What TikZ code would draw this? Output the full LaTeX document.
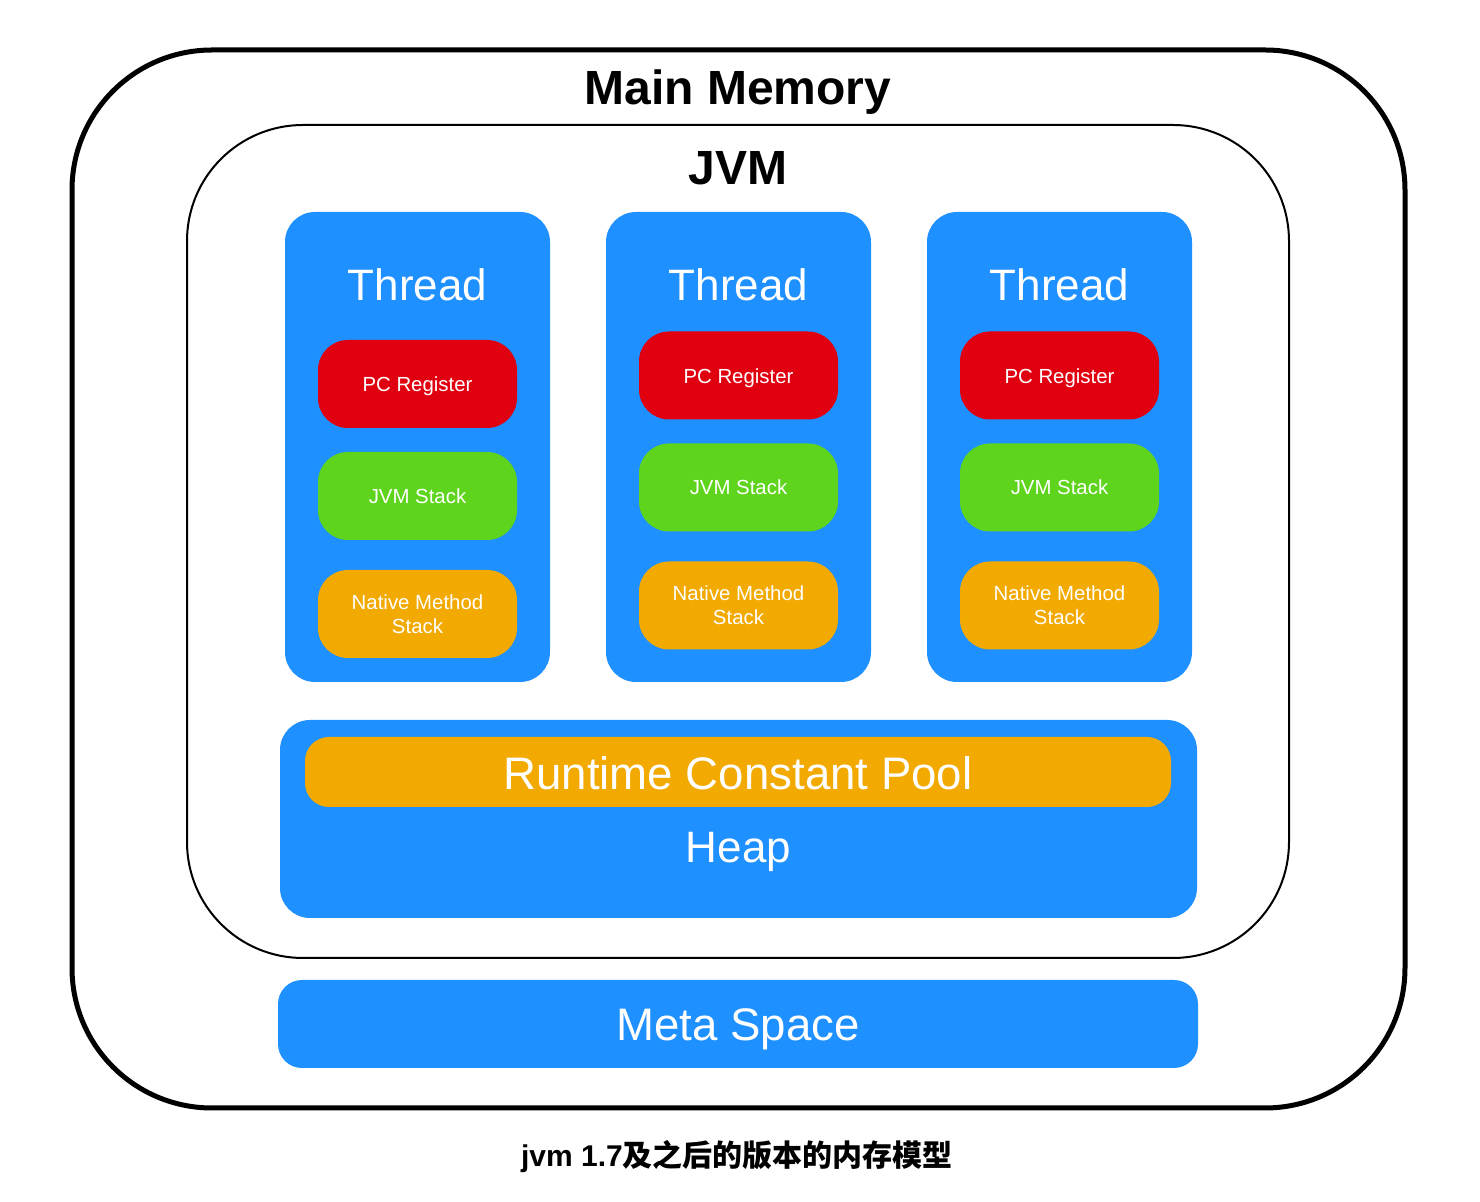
\documentclass[tikz,border=0pt]{standalone}
\usepackage{fontspec}
\setmainfont{Liberation Sans}
\newfontfamily\cjk{Noto Sans CJK SC}
\definecolor{areablue}{RGB}{30,144,255}
\definecolor{pcred}{RGB}{225,0,15}
\definecolor{stackgreen}{RGB}{94,212,28}
\definecolor{nativeorange}{RGB}{242,169,0}

\begin{document}
\begin{tikzpicture}[x=0.5pt,y=-0.5pt,
  area/.style={fill=areablue,rounded corners=15pt,inner sep=0pt},
  part/.style={rounded corners=15pt,minimum width=99.5pt,minimum height=44pt,
    text=white,font=\fontsize{10.2}{12}\selectfont,align=center,inner sep=0pt},
  bigtext/.style={text=white,font=\fontsize{22}{26}\selectfont,inner sep=0pt},
  widetext/.style={text=white,font=\fontsize{22.8}{26}\selectfont,inner sep=0pt},
  title/.style={font=\fontsize{24}{28}\selectfont\bfseries,inner sep=0pt}]
\useasboundingbox (0,0) rectangle (1480,1202);
% memory frames
\draw[line width=2.5pt,rounded corners=70pt](72,50) rectangle (1405,1108);
\draw[line width=1pt,rounded corners=58pt](187,125) rectangle (1289,958);
\node[title] (mainmem) at (738,92) {Main Memory};
\node[title] (jvm) at (738,168) {JVM};
% threads
\node[area,minimum width=132.5pt,minimum height=235pt] (thread1) at (417.5,447) {};
\node[area,minimum width=132.5pt,minimum height=235pt] (thread2) at (738.5,447) {};
\node[area,minimum width=132.5pt,minimum height=235pt] (thread3) at (1059.5,447) {};
\node[bigtext] (title1) at (417.5,285) {Thread};
\node[bigtext] (title2) at (738.5,285) {Thread};
\node[bigtext] (title3) at (1059.5,285) {Thread};
\node[part,fill=pcred] (pc1) at (417.5,384) {\raisebox{-4pt}[0pt][0pt]{PC Register}};
\node[part,fill=stackgreen] (stack1) at (417.5,496) {JVM Stack};
\node[part,fill=nativeorange] (native1) at (417.5,614) {Native Method\\Stack};
\node[part,fill=pcred] (pc2) at (738.5,375.5) {\raisebox{-4pt}[0pt][0pt]{PC Register}};
\node[part,fill=stackgreen] (stack2) at (738.5,487.5) {JVM Stack};
\node[part,fill=nativeorange] (native2) at (738.5,605.5) {Native Method\\Stack};
\node[part,fill=pcred] (pc3) at (1059.5,375.5) {\raisebox{-4pt}[0pt][0pt]{PC Register}};
\node[part,fill=stackgreen] (stack3) at (1059.5,487.5) {JVM Stack};
\node[part,fill=nativeorange] (native3) at (1059.5,605.5) {Native Method\\Stack};
% heap and meta space
\node[area,minimum width=458.5pt,minimum height=99pt] (heap) at (738.5,819) {};
\node[fill=nativeorange,rounded corners=12pt,minimum width=433pt,minimum height=35pt,inner sep=0pt] (pool) at (738,772) {};
\node[widetext] (pooltext) at (738,773) {Runtime Constant Pool};
\node[bigtext] (heaptext) at (738.5,852) {Heap};
\node[area,rounded corners=12pt,minimum width=460pt,minimum height=44pt] (meta) at (738,1024) {};
\node[widetext] (metatext) at (738,1029) {Meta Space};
\node[inner sep=0pt] (caption) at (737,1157) {\fontsize{15}{18}\selectfont\bfseries jvm 1.7{\cjk 及之后的版本的内存模型}};
\end{tikzpicture}
\end{document}
